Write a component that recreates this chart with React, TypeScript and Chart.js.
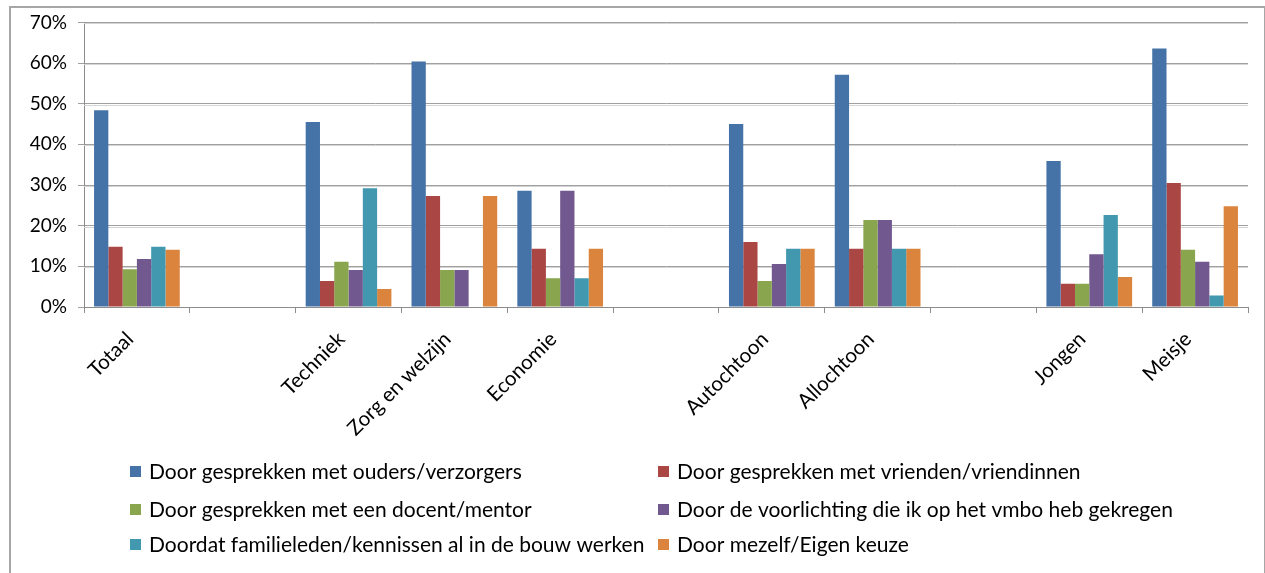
import React, { useEffect, useRef } from "react";
import { Chart, registerables } from "chart.js";

Chart.register(...registerables);

const categories = [
  "Totaal",
  "",
  "Techniek",
  "Zorg en welzijn",
  "Economie",
  "",
  "Autochtoon",
  "Allochtoon",
  "",
  "Jongen",
  "Meisje",
];

const seriesNames = [
  "Door gesprekken met ouders/verzorgers",
  "Door gesprekken met vrienden/vriendinnen",
  "Door gesprekken met een docent/mentor",
  "Door de voorlichting die ik op het vmbo heb gekregen",
  "Doordat familieleden/kennissen al in de bouw werken",
  "Door mezelf/Eigen keuze",
];

const ouders = [48.4, null, 45.5, 60.4, 28.6, null, 45.0, 57.1, null, 35.9, 63.6];
const vrienden = [14.8, null, 6.4, 27.3, 14.3, null, 16.0, 14.3, null, 5.7, 30.5];
const docent = [9.3, null, 11.1, 9.1, 7.1, null, 6.4, 21.4, null, 5.7, 14.1];
const voorlichting = [11.8, null, 9.1, 9.1, 28.6, null, 10.6, 21.4, null, 13.0, 11.1];
const familie = [14.8, null, 29.2, 0, 7.1, null, 14.3, 14.3, null, 22.6, 2.8];
const mezelf = [14.1, null, 4.4, 27.3, 14.3, null, 14.3, 14.3, null, 7.4, 24.8];

const yTicks = [0, 10, 20, 30, 40, 50, 60, 70];

const seriesValues = [ouders, vrienden, docent, voorlichting, familie, mezelf];
const colors = ["#4572A7", "#AA4643", "#89A54E", "#71588F", "#4198AF", "#DB843D"];

const FONT = "Lato, 'Open Sans', sans-serif";

const gridDouble = {
  id: "gridDouble",
  beforeDatasetsDraw(chart: any) {
    const { ctx, chartArea, scales } = chart;
    const y = scales.y;
    ctx.save();
    ctx.strokeStyle = "#d4d4d4";
    ctx.lineWidth = 1;
    yTicks.forEach((t) => {
      if (t === 0) return;
      const py = Math.round(y.getPixelForValue(t)) + 1.5;
      ctx.beginPath();
      ctx.moveTo(chartArea.left, py);
      ctx.lineTo(chartArea.right, py);
      ctx.stroke();
    });
    ctx.restore();
  },
};

const customLegend = {
  id: "customLegend",
  afterDraw(chart: any) {
    const { ctx } = chart;
    const cols = [130, 658];
    const rows = [472, 510, 545];
    ctx.save();
    ctx.font = `21px ${FONT}`;
    ctx.textBaseline = "middle";
    ctx.textAlign = "left";
    chart.data.datasets.forEach((ds: any, i: number) => {
      const cx = cols[i % 2];
      const cy = rows[Math.floor(i / 2)];
      ctx.fillStyle = ds.backgroundColor;
      ctx.fillRect(cx, cy - 6, 11, 11);
      ctx.fillStyle = "#000";
      ctx.fillText(ds.label, cx + 19, cy);
    });
    ctx.restore();
  },
};

export default function App() {
  const ref = useRef<HTMLCanvasElement | null>(null);

  useEffect(() => {
    if (!ref.current) return;
    const chart = new Chart(ref.current, {
      type: "bar",
      data: {
        labels: categories,
        datasets: seriesNames.map((name, i) => ({
          label: name,
          data: seriesValues[i],
          backgroundColor: colors[i],
          borderWidth: 0,
          categoryPercentage: 0.81,
          barPercentage: 1.0,
        })),
      },
      options: {
        animation: false,
        responsive: false,
        maintainAspectRatio: false,
        layout: { padding: { left: 0, top: 22, right: 17, bottom: 0 } },
        plugins: {
          legend: { display: false },
          tooltip: { enabled: false },
        },
        scales: {
          x: {
            afterFit(scale: any) {
              scale.height = 266;
            },
            grid: {
              display: true,
              drawOnChartArea: false,
              drawTicks: true,
              tickLength: 6,
              offset: true,
              color: "#8c8c8c",
              lineWidth: 1,
            },
            border: { display: true, color: "#8c8c8c", width: 1 },
            ticks: {
              autoSkip: false,
              maxRotation: 45,
              minRotation: 45,
              padding: 14,
              labelOffset: -7,
              color: "#000",
              font: { family: FONT, size: 20.5 },
            },
          },
          y: {
            min: 0,
            max: 70,
            afterFit(scale: any) {
              scale.width = 84;
            },
            afterBuildTicks(scale: any) {
              scale.ticks = yTicks.map((v) => ({ value: v }));
            },
            grid: {
              color: "#a0a0a0",
              lineWidth: 1,
              drawTicks: true,
              tickLength: 6,
            },
            border: { display: true, color: "#8c8c8c", width: 1 },
            ticks: {
              padding: 11,
              color: "#000",
              font: { family: FONT, size: 19 },
              callback: (v: any) => `${v}%`,
            },
          },
        },
      },
      plugins: [gridDouble, customLegend],
    });
    return () => chart.destroy();
  }, []);

  return (
    <div
      style={{
        position: "absolute",
        left: 0,
        top: 0,
        width: 1265,
        height: 573,
        background: "#fff",
        overflow: "hidden",
      }}
    >
      <div
        style={{
          position: "absolute",
          left: 9,
          top: 6,
          width: 1253,
          height: 600,
          border: "2px solid #a6a6a6",
        }}
      />
      <canvas
        ref={ref}
        width={1265}
        height={573}
        style={{ position: "absolute", left: 0, top: 0, width: 1265, height: 573 }}
      />
    </div>
  );
}
